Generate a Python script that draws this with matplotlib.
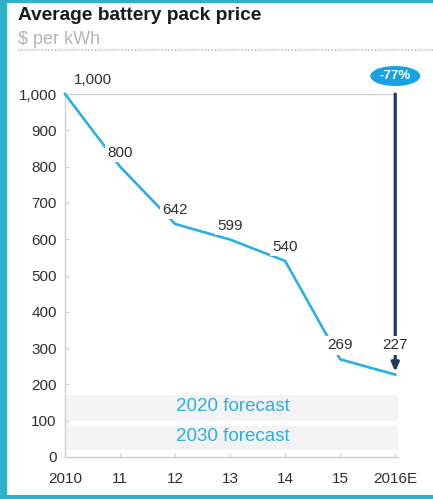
import matplotlib
matplotlib.use("Agg")
import matplotlib.pyplot as plt
from matplotlib.patches import Rectangle, Ellipse

plt.rcParams['font.family'] = ['Liberation Sans', 'DejaVu Sans']

# Data
years = ["2010", "11", "12", "13", "14", "15", "2016E"]
prices = [1000, 800, 642, 599, 540, 269, 227]
value_labels = ["1,000", "800", "642", "599", "540", "269", "227"]
y_ticks = [0, 100, 200, 300, 400, 500, 600, 700, 800, 900, 1000]
y_tick_labels = ["0", "100", "200", "300", "400", "500", "600", "700", "800", "900", "1,000"]
forecast_names = ["2020 forecast", "2030 forecast"]
forecast_low = [100, 20]
forecast_high = [170, 85]
change_label = "-77%"

LINE = "#2aafe6"
NAVY = "#1f3b63"
TEXT = "#303030"
TEAL = "#2fb1c7"

W, H = 433, 499
fig = plt.figure(figsize=(W / 100, H / 100), dpi=100)
fig.patch.set_facecolor(TEAL)
fig.patches.append(Rectangle((7 / W, 4 / H), 1 - 7 / W, 1 - 7 / H,
                             transform=fig.transFigure, facecolor="white",
                             edgecolor="none", zorder=-10))

# Header
fig.text(18 / W, 1 - 16 / H, "Average battery pack price", fontsize=13.8,
         fontweight="bold", color="#1a1a1a", va="center", ha="left")
fig.text(18 / W, 1 - 40 / H, "$ per kWh", fontsize=13, color="#b5b5b5",
         va="center", ha="left")
fig.add_artist(plt.Line2D([18 / W, 1.0], [1 - 50 / H, 1 - 50 / H],
                          transform=fig.transFigure, color="#c4c4c4",
                          lw=1.2, ls=(0, (1, 1))))

x = list(range(len(years)))
ax = fig.add_axes([65 / W, 42 / H, 333 / W, 363 / H])
ax.set_zorder(5)
ax.set_xlim(0, 6.05)
ax.set_ylim(0, 1000)
ax.set_facecolor("none")

for s in ["top", "right"]:
    ax.spines[s].set_visible(False)
for s in ["left", "bottom"]:
    ax.spines[s].set_color("#cfcfcf")
    ax.spines[s].set_linewidth(1.0)

ax.set_yticks(y_ticks)
ax.set_yticklabels(y_tick_labels)
ax.set_xticks(x)
ax.set_xticklabels(years)
ax.tick_params(axis="y", direction="in", length=3, color="#cfcfcf",
               labelsize=11, labelcolor=TEXT, pad=6)
ax.tick_params(axis="x", direction="in", length=3, color="#cfcfcf",
               labelsize=11, labelcolor=TEXT, pad=11)

# Forecast bands
for name, lo, hi in zip(forecast_names, forecast_low, forecast_high):
    ax.add_patch(Rectangle((0, lo), 6.05, hi - lo, facecolor="#f3f3f3",
                           edgecolor="none", zorder=1))
    ax.text(3.05, (lo + hi) / 2 + 4, name, ha="center", va="center",
            fontsize=13.5, color=LINE, zorder=2)

# Reference line at the starting value
ax.plot([0, x[-1]], [prices[0], prices[0]], color="#d0d0d0", lw=1.0, zorder=2)

# Price line
ax.plot(x, prices, color=LINE, lw=1.9, zorder=3, clip_on=False)

# Overall decline arrow
ax.annotate("", xy=(x[-1], prices[-1] + 8), xytext=(x[-1], prices[0]),
            arrowprops=dict(arrowstyle="-|>,head_length=0.5,head_width=0.22",
                            color=NAVY, lw=2.3, shrinkA=0, shrinkB=0),
            zorder=4, annotation_clip=False)

# Value labels
for i, (v, lab) in enumerate(zip(prices, value_labels)):
    if i == 0:
        off = (20, 10)
    elif i == len(prices) - 1:
        off = (0, 21)
    else:
        off = (0, 10)
    ax.annotate(lab, xy=(x[i], v), xytext=off, textcoords="offset points",
                ha="center", va="center", fontsize=11, color=TEXT, zorder=5,
                bbox=dict(boxstyle="square,pad=0.15", facecolor="white",
                          edgecolor="none"),
                annotation_clip=False)

# Change badge
badge_y = 1000 + 18 / 0.363
ax.add_patch(Ellipse((x[-1], badge_y), 50 / 55, 20 / 0.363, facecolor="#17a2e6",
                     edgecolor="none", clip_on=False, zorder=6))
ax.text(x[-1], badge_y, change_label, ha="center", va="center", fontsize=9.5,
        fontweight="bold", color="white", zorder=7, clip_on=False)

fig.savefig("out.png", dpi=100, facecolor=fig.get_facecolor())
